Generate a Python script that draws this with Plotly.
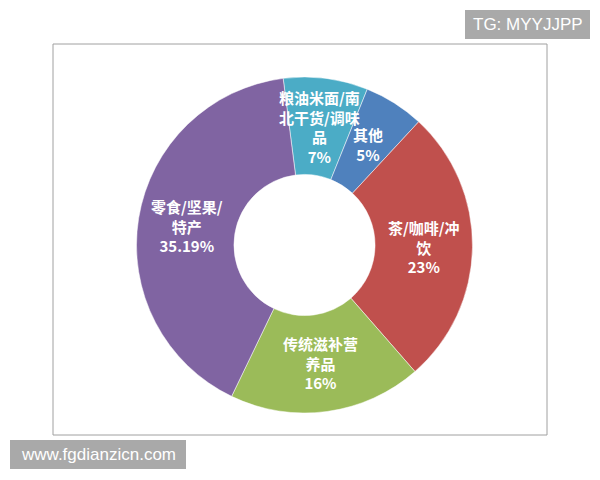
import math
import plotly.graph_objects as go

# data (shown percentages are not normalised to 100)
categories = ['粮油米面/南北干货/调味品', '其他', '茶/咖啡/冲饮', '传统滋补营养品', '零食/坚果/特产']
values = [7, 5, 23, 16, 35.19]
label_text = ['粮油米面/南<br>北干货/调味<br>品<br>7%', '其他<br>5%', '茶/咖啡/冲<br>饮<br>23%',
              '传统滋补营<br>养品<br>16%', '零食/坚果/<br>特产<br>35.19%']
colors = ['#4BACC6', '#4F81BD', '#C0504D', '#9BBB59', '#8064A2']

# the page body has an 8px margin, so the figure is a bit smaller and
# positions below are given in window pixels, minus that offset
OFF = 8
W, H = 600 - 2 * OFF, 480 - 2 * OFF


def px(x):
    return (x - OFF) / W


def py(y):
    return 1 - (y - OFF) / H


cx, cy, R = 304.5, 245, 168  # pie centre / radius in window pixels
hole = 0.42
rotation = -7.3

fig = go.Figure(go.Pie(
    labels=categories, values=values, sort=False, direction='clockwise',
    rotation=rotation, hole=hole, textinfo='none', hoverinfo='label+value',
    marker=dict(colors=colors, line=dict(color='white', width=0.5)),
    domain=dict(x=[px(cx - R), px(cx + R)], y=[py(cy + R), py(cy - R)]),
    showlegend=False,
))

# labels at the middle of each ring segment
total = sum(values)
start = rotation
r_mid = R * (1 + hole) / 2
for v, t in zip(values, label_text):
    mid = math.radians(start + 360 * v / total / 2)
    start += 360 * v / total
    x = cx + r_mid * math.sin(mid)
    y = cy - r_mid * math.cos(mid)
    fig.add_annotation(x=px(x), y=py(y), xref='paper', yref='paper', text='<b>' + t + '</b>',
                       showarrow=False, align='center', xanchor='center', yanchor='middle',
                       font=dict(family='Noto Sans CJK SC', size=15, color='white'))

# chart frame
fig.add_shape(type='rect', xref='paper', yref='paper', x0=px(53), x1=px(547), y0=py(435), y1=py(44),
              line=dict(color='#A0A0A0', width=1))

# watermark boxes
for x0, x1, y0, y1, txt in [(465, 590, 10, 39, 'TG: MYYJJPP'), (10, 186, 440, 469, 'www.fgdianzicn.com')]:
    fig.add_shape(type='rect', xref='paper', yref='paper', x0=px(x0), x1=px(x1), y0=py(y1), y1=py(y0),
                  fillcolor='#A9A9A9', line=dict(width=0))
    fig.add_annotation(x=px((x0 + x1) / 2), y=py((y0 + y1) / 2), xref='paper', yref='paper', text=txt,
                       showarrow=False, xanchor='center', yanchor='middle',
                       font=dict(family='Liberation Sans', size=17, color='white'))

fig.update_layout(width=W, height=H, margin=dict(l=0, r=0, t=0, b=0),
                  paper_bgcolor='white', plot_bgcolor='white')
fig.write_html('out.html')
